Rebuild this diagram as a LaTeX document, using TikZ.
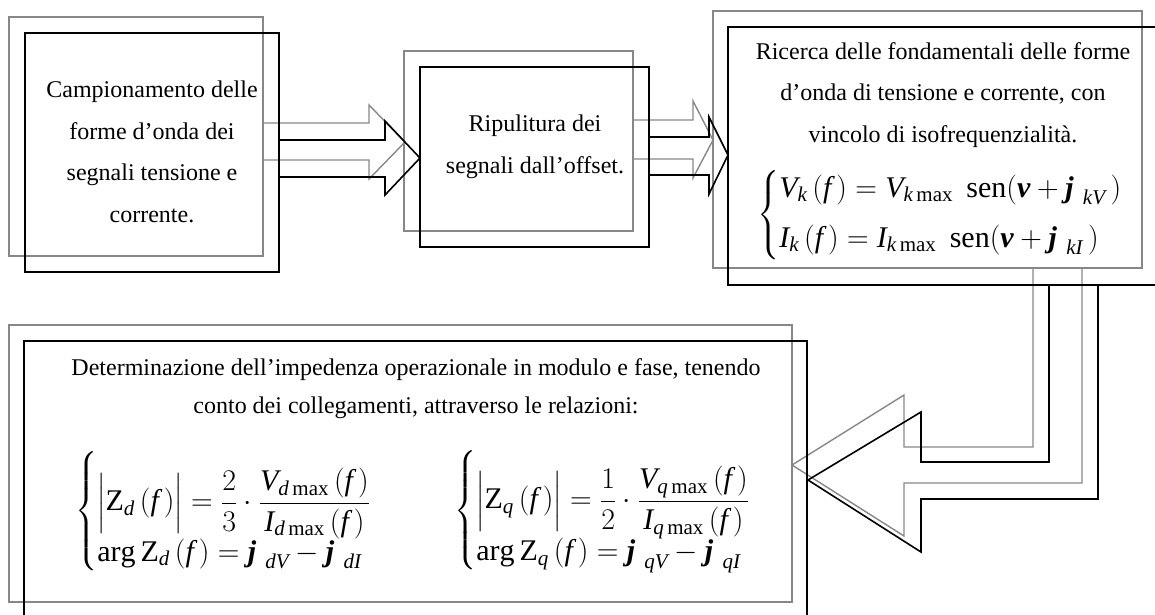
\documentclass[tikz,border=0pt]{standalone}
\usepackage{fix-cm}
\usepackage{amsmath}
\usepackage{fontspec}
\setmainfont{Liberation Serif}
\newcommand{\mi}[1]{\mathit{#1}}
\newcommand{\bv}{\mbox{\bfseries\itshape v}}
\newcommand{\bj}{\mbox{\bfseries\itshape j}}
\newcommand{\bracestrut}[1]{\vcenter{\hbox{\rule{0pt}{#1}}}}
\begin{document}
\begin{tikzpicture}[x=1pt,y=-1pt,
  gl/.style={draw=black!47,line width=1.4pt},
  bl/.style={draw=black,line width=1.6pt},
  box/.style={rectangle,inner sep=0pt,outer sep=0pt,anchor=north west},
  txt/.style={font=\fontsize{24}{41.5}\selectfont,align=center,inner sep=0pt,anchor=base},
  txtb/.style={font=\fontsize{24}{37.5}\selectfont,align=center,inner sep=0pt,anchor=base},
  eq/.style={font=\fontsize{30}{36}\selectfont,inner sep=0pt,anchor=west}]
\useasboundingbox (0,0) rectangle (1155,614);
% gray frames
\node[box,gl,minimum width=254pt,minimum height=239pt] (g1) at (9,17) {};
\node[box,gl,minimum width=229pt,minimum height=180pt] (g2) at (404,51) {};
\node[box,gl,minimum width=429pt,minimum height=257pt] (g3) at (713,11) {};
\node[box,gl,minimum width=783pt,minimum height=277pt] (g4) at (9,325) {};
% gray arrows
\draw[gl] (263,123) -- (369,123) -- (369,105) -- (405,142) -- (369,179) -- (369,160) -- (263,160);
\draw[gl] (633,120) -- (693,120) -- (693,101) -- (713,140) -- (693,178) -- (693,159) -- (633,159);
\draw[gl] (1033,268) -- (1033,447) -- (904,447) -- (904,395) -- (792,465) -- (904,536) -- (904,483) -- (1082,483) -- (1082,268) -- cycle;
% black frames
\node[box,bl,minimum width=254pt,minimum height=239pt] (b1) at (25,33) {};
\node[box,bl,minimum width=229pt,minimum height=180pt] (b2) at (420,67) {};
\node[box,bl,minimum width=430pt,minimum height=258pt] (b3) at (728,27) {};
\node[box,bl,minimum width=783pt,minimum height=277pt] (b4) at (24,341) {};
% black arrows
\draw[bl] (279,140) -- (385,140) -- (385,121) -- (420,158) -- (385,195) -- (385,177) -- (279,177);
\draw[bl] (649,137) -- (709,137) -- (709,117) -- (728,155) -- (709,194) -- (709,175) -- (649,175);
\draw[bl] (1049,285) -- (1049,462) -- (921,462) -- (921,412) -- (808,480) -- (921,552) -- (921,499) -- (1098,499) -- (1098,285) -- cycle;
% texts (base = last line)
\node[txt] (t1) at (152,222) {Campionamento delle\\forme d’onda dei\\segnali tensione e\\corrente.};
\node[txt] (t2) at (535,173) {Ripulitura dei\\segnali dall’offset.};
\node[txt] (t3) at (943,142) {Ricerca delle fondamentali delle forme\\d’onda di tensione e corrente, con\\vincolo di isofrequenzialità.};
\node[txtb] (t4) at (416,413) {Determinazione dell’impedenza operazionale in modulo e fase, tenendo\\conto dei collegamenti, attraverso le relazioni:};
% equations
\node[eq] (e1) at (757,215) {$\left\{\begin{array}{@{}l@{}}
\mi{V}_{\mi{k}}\,(\mi{f}\,) = \mi{V}_{\mi{k}\,\mathrm{max}}\;\, \mathrm{sen}(\bv +\bj_{\;\,\mi{kV}}\,) \\[14pt]
\mi{I}_{\mi{k}}\,(\mi{f}\,) = \mi{I}_{\mi{k}\,\mathrm{max}}\;\, \mathrm{sen}(\bv +\bj_{\;\,\mi{kI}}\,)
\end{array}\right.$};
\node[eq] (e2) at (75,511) {$\left\{\bracestrut{122pt}\raisebox{-9pt}{$\displaystyle\begin{array}{@{}l@{}}
\Bigl|\mathrm{Z}_{\mi{d}}\,(\mi{f}\,)\Bigr| = \dfrac{2}{3}\cdot\dfrac{\mi{V}_{\mi{d}\,\mathrm{max}}\,(\mi{f}\,)}{\mi{I}_{\mi{d}\,\mathrm{max}}\,(\mi{f}\,)} \\[-3pt]
\arg \mathrm{Z}_{\mi{d}}\,(\mi{f}\,) =\bj_{\;\,\mi{dV}} -\bj_{\;\,\mi{dI}}
\end{array}$}\right.$};
\node[eq] (e3) at (454,511) {$\left\{\bracestrut{122pt}\raisebox{-9pt}{$\displaystyle\begin{array}{@{}l@{}}
\Bigl|\mathrm{Z}_{\mi{q}}\,(\mi{f}\,)\Bigr| = \dfrac{1}{2}\cdot\dfrac{\mi{V}_{\mi{q}\,\mathrm{max}}\,(\mi{f}\,)}{\mi{I}_{\mi{q}\,\mathrm{max}}\,(\mi{f}\,)} \\[-3pt]
\arg \mathrm{Z}_{\mi{q}}\,(\mi{f}\,) =\bj_{\;\,\mi{qV}} -\bj_{\;\,\mi{qI}}
\end{array}$}\right.$};
\end{tikzpicture}
\end{document}
